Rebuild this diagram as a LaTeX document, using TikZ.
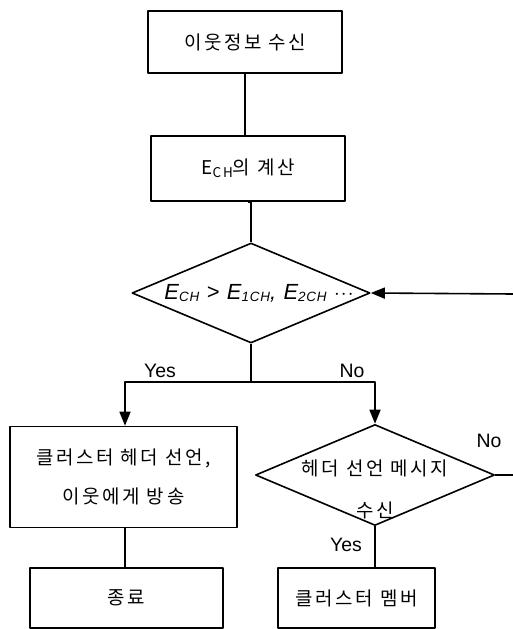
\documentclass[tikz,border=0pt]{standalone}
\usepackage{fontspec}
\setmainfont{Liberation Sans}
\newfontfamily\kr[LetterSpace=14]{Noto Sans CJK KR}
\newfontfamily\formulafont[LetterSpace=6]{Liberation Sans}
\usetikzlibrary{shapes.geometric,arrows.meta}
\newcommand{\lowsub}[1]{\raisebox{-2.5bp}{\fontsize{13.5}{13.5}\selectfont #1}}
\tikzset{
  procbox/.style={draw, line width=1.6bp, minimum width=#1, inner sep=0pt},
  decision/.style={draw, diamond, line width=1.6bp, inner sep=0pt},
  kortext/.style={font=\kr\fontsize{19}{19}\selectfont},
  yesno/.style={font=\fontsize{19.5}{19.5}\selectfont}
}
\begin{document}
\begin{tikzpicture}[x=1bp, y=-1bp, line width=1.6bp, line join=round, >={Triangle[length=14bp,width=11bp]}]
    \useasboundingbox (0,0) rectangle (513,629);
    % boxes
    \node[procbox=194bp, minimum height=62bp, kortext] (recv) at (245,42) {이웃정보 수신};
    \node[procbox=194bp, minimum height=65bp, kortext] (calc) at (248,168.5) {E\lowsub{CH}의 계산};
    \node[decision, minimum width=238bp, minimum height=100bp] (cmp) at (251,293) {};
    \node[font=\formulafont\itshape\fontsize{22}{22}\selectfont] (cmptext) at (259,293)
        {E\lowsub{CH} > E\lowsub{1CH}, E\lowsub{2CH} $\cdot\!\cdot\!\cdot$};
    \node[procbox=227bp, minimum height=101bp, kortext, align=center] (clhead) at (123.5,477)
        {클러스터 헤더 선언,\\[19bp]이웃에게 방송};
    \node[decision, minimum width=239bp, minimum height=101bp] (chk) at (375,475) {};
    \node[kortext, align=center] (chktext) at (375,489.5) {헤더 선언 메시지\\[23bp]수신};
    \node[procbox=193bp, minimum height=60bp, kortext] (done) at (126.5,598) {종료};
    \node[procbox=157bp, minimum height=60bp, kortext] (member) at (356.5,598) {클러스터 멤버};
    % connectors
    \coordinate (split) at (251,382);
    \coordinate (loopin) at (513,294);
    \coordinate (loopout) at (513,475);
    \draw (recv.south) -- (recv.south |- calc.north);
    \draw (calc.south) -- (calc.south -| cmp.north) -- (cmp.north);
    \draw (cmp.south) -- (split);
    \draw[->] (split) -| (125,0 |- clhead.north);
    \draw[->] (split) -| (chk.north);
    \draw[->] (loopin) -- (cmp.east);
    \draw (chk.east) -- (loopout);
    \draw (125,0 |- clhead.south) -- (125,0 |- done.north);
    \draw (chk.south) -- (chk.south |- member.north);
    % labels
    \node[yesno] (yesleft) at (160,371) {Yes};
    \node[yesno] (noright) at (352,371) {No};
    \node[yesno] (noloop) at (489,441) {No};
    \node[yesno] (yesdown) at (346,545) {Yes};
\end{tikzpicture}
\end{document}
